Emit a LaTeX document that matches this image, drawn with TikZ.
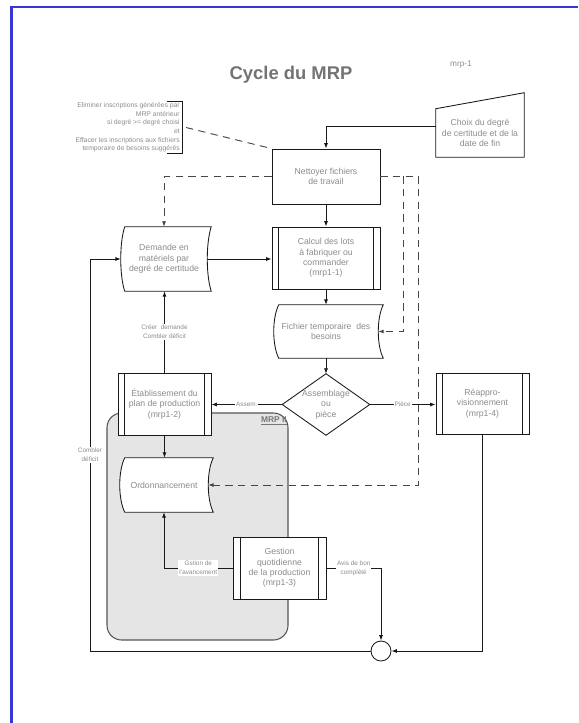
\documentclass[tikz,border=0pt]{standalone}
\usepackage{fontspec}
\setmainfont{Liberation Sans}
\usetikzlibrary{arrows.meta,calc}
\definecolor{txt}{RGB}{140,140,140}
\definecolor{ttl}{RGB}{115,115,115}
\definecolor{frameblue}{RGB}{55,55,210}
\definecolor{grpfill}{RGB}{229,229,229}
\definecolor{grpline}{RGB}{85,85,85}
\definecolor{ln}{RGB}{25,25,25}
\definecolor{dln}{RGB}{70,70,70}
\pgfdeclarelayer{back}
\pgfdeclarelayer{bg}
\pgfsetlayers{back,bg,main}
\newcommand\predefbars[2]{%
  \draw[draw=ln, line width=0.65pt]
    ([xshift=#2*0.75pt]#1.north west) -- ([xshift=#2*0.75pt]#1.south west)
    ([xshift=-#2*0.75pt]#1.north east) -- ([xshift=-#2*0.75pt]#1.south east);}
\newcommand\storedshape[2]{%
  \begin{pgfonlayer}{bg}
  \path[draw=ln, line width=0.65pt, fill=white]
    ([xshift=#2*0.75pt]#1.north west) -- ([xshift=#2*0.75pt]#1.north east)
    .. controls ($(#1.north east)!0.25!(#1.south east)+(-#2/3,0)$) and ($(#1.north east)!0.75!(#1.south east)+(-#2/3,0)$) .. ([xshift=#2*0.75pt]#1.south east)
    -- ([xshift=#2*0.75pt]#1.south west)
    .. controls ($(#1.north west)!0.75!(#1.south west)+(-#2/3,0)$) and ($(#1.north west)!0.25!(#1.south west)+(-#2/3,0)$) .. ([xshift=#2*0.75pt]#1.north west)
    -- cycle;
  \end{pgfonlayer}}
\begin{document}
\begin{tikzpicture}[x=0.75pt,y=-0.75pt,
  every node/.style={font=\fontsize{6.5}{7.7}\selectfont, text=txt, align=center, inner sep=0pt},
  sz/.style 2 args={minimum width=#1*0.75pt, minimum height=#2*0.75pt},
  proc/.style={draw=ln, line width=0.65pt, fill=white},
  conn/.style={draw=ln, line width=0.65pt, -{Latex[length=4pt,width=3pt]}},
  dconn/.style={draw=dln, line width=0.7pt, dash pattern=on 5.5pt off 4pt},
  dtip/.style={-{Latex[length=4pt,width=3pt]}},
  lbl/.style={fill=white, font=\fontsize{4.8}{6.8}\selectfont, inner sep=0.7pt}]
\useasboundingbox (0,0) rectangle (578,723);

% frame
\draw[frameblue, line width=1.6pt] (11.5,723) -- (11.5,7) -- (578,7);

% title
\node[font=\fontsize{13.8}{16}\selectfont\bfseries, text=ttl] (title) at (291,75) {Cycle du MRP};
\node[font=\fontsize{6.2}{7}\selectfont] (ref) at (461,65) {mrp-1};

% group box MRP II
\begin{pgfonlayer}{back}
\node[sz={181}{227}, draw=grpline, line width=0.8pt, fill=grpfill, rounded corners=11pt] (mrp) at (197.5,526.5) {};
\end{pgfonlayer}
\node[font=\fontsize{6.3}{7}\selectfont\bfseries, text=txt!85!black] (mrplbl) at (274,421) {\underline{MRP II}};

% annotation
\node[anchor=east, align=right, font=\fontsize{5.1}{6.45}\selectfont] (annot) at (180,127.5)
  {Eliminer inscriptions générées par\\MRP antérieur\\si degré >= degré choisi\\et\\Effacer les inscriptions aux fichiers\\temporaire de besoins suggérés};
\draw[draw=ln, line width=0.65pt] ($(annot.north east)+(-13,-1)$) -- ($(annot.north east)+(2,-1)$) -- ($(annot.south east)+(2,1)$) -- ($(annot.south east)+(-13,1)$);

% manual input
\node[sz={88}{48}] (choix) at (480,133) {Choix du degré\\de certitude et de la\\date de fin};
\draw[draw=ln, line width=0.65pt] (choix.south west) -- (choix.north west) -- ($(choix.north east)+(0,-16)$) -- (choix.south east) -- cycle;

% process nodes
\node[proc, sz={108}{55}] (nett) at (326,176.5) {Nettoyer fichiers\\de travail};
\node[proc, sz={108}{62}] (calc) at (326,258) {Calcul des lots\\à fabriquer ou\\commander\\(mrp1-1)};
\predefbars{calc}{7}
\node[proc, sz={93}{62}] (etab) at (164.5,404) {Établissement du\\plan de production\\(mrp1-2)};
\predefbars{etab}{7}
\node[proc, sz={93}{61}] (reap) at (482.5,403.5) {Réappro-\\visionnement\\(mrp1-4)};
\predefbars{reap}{7}
\node[proc, sz={93}{62}] (gest) at (279.5,568) {Gestion\\quotidienne\\de la production\\(mrp1-3)};
\predefbars{gest}{8}

% stored data
\node[sz={86}{64}] (dem) at (164,259) {Demande en\\matériels par\\degré de certitude};
\storedshape{dem}{4}
\node[sz={104}{53}] (fic) at (326,331.5) {Fichier temporaire~ des\\besoins};
\storedshape{fic}{5}
\node[sz={88}{54}] (ordo) at (164,485) {Ordonnancement};
\storedshape{ordo}{5}

% decision
\node[sz={87}{61}] (asm) at (326,404.5) {Assemblage\\ou\\pièce};
\draw[draw=ln, line width=0.65pt] (asm.north) -- (asm.east) -- (asm.south) -- (asm.west) -- cycle;

% connector circle
\node[circle, draw=ln, line width=0.65pt, fill=white, minimum size=20*0.75pt] (circ) at (381,651) {};

% dashed connectors
\coordinate (dOut) at (418,176.5);
\coordinate (dIn) at (403,176.5);
\draw[dconn] (nett.east) -- (dOut);
\draw[dconn, dtip] (dOut) |- (ordo.east);
\draw[dconn, dtip] (dIn) |- (fic.east);
\draw[dconn, dtip] (nett.west) -| (dem.north);
\draw[dconn] ($(annot.east)+(6,0)$) -- (nett.north west);

% solid connectors
\draw[conn] ($(choix.west)+(0,-7)$) -| (nett.north);
\draw[conn] (nett.south) -- (calc.north);
\draw[conn] (dem.east) -- (dem.east -| calc.west);
\draw[conn] (calc.south) -- (fic.north);
\draw[conn] (fic.south) -- (fic.south |- asm.north);
\draw[conn] (asm.west) -- node[lbl] {Assem.} (asm.west -| etab.east);
\draw[conn] (asm.east) -- node[lbl] {Pièce} (asm.east -| reap.west);
\draw[conn] (etab.north) -- node[lbl] {Créer~ demande\\Combler déficit} (etab.north |- dem.south);
\draw[conn] (etab.south) -- (etab.south |- ordo.north);
\draw[conn] (gest.west) -| node[lbl, pos=0.25] {Gstion de\\l'avancement} (ordo.south);
\draw[conn] (gest.east) -| node[lbl, pos=0.25] {Avis de bon\\complété} (circ.north);
\draw[conn] (reap.south) |- (circ.east);
\coordinate (loopBL) at (90,651);
\draw[conn] (circ.west) -- (loopBL) -- node[lbl] {Combler\\déficit} (loopBL |- dem.west) -- (dem.west);
\end{tikzpicture}
\end{document}
